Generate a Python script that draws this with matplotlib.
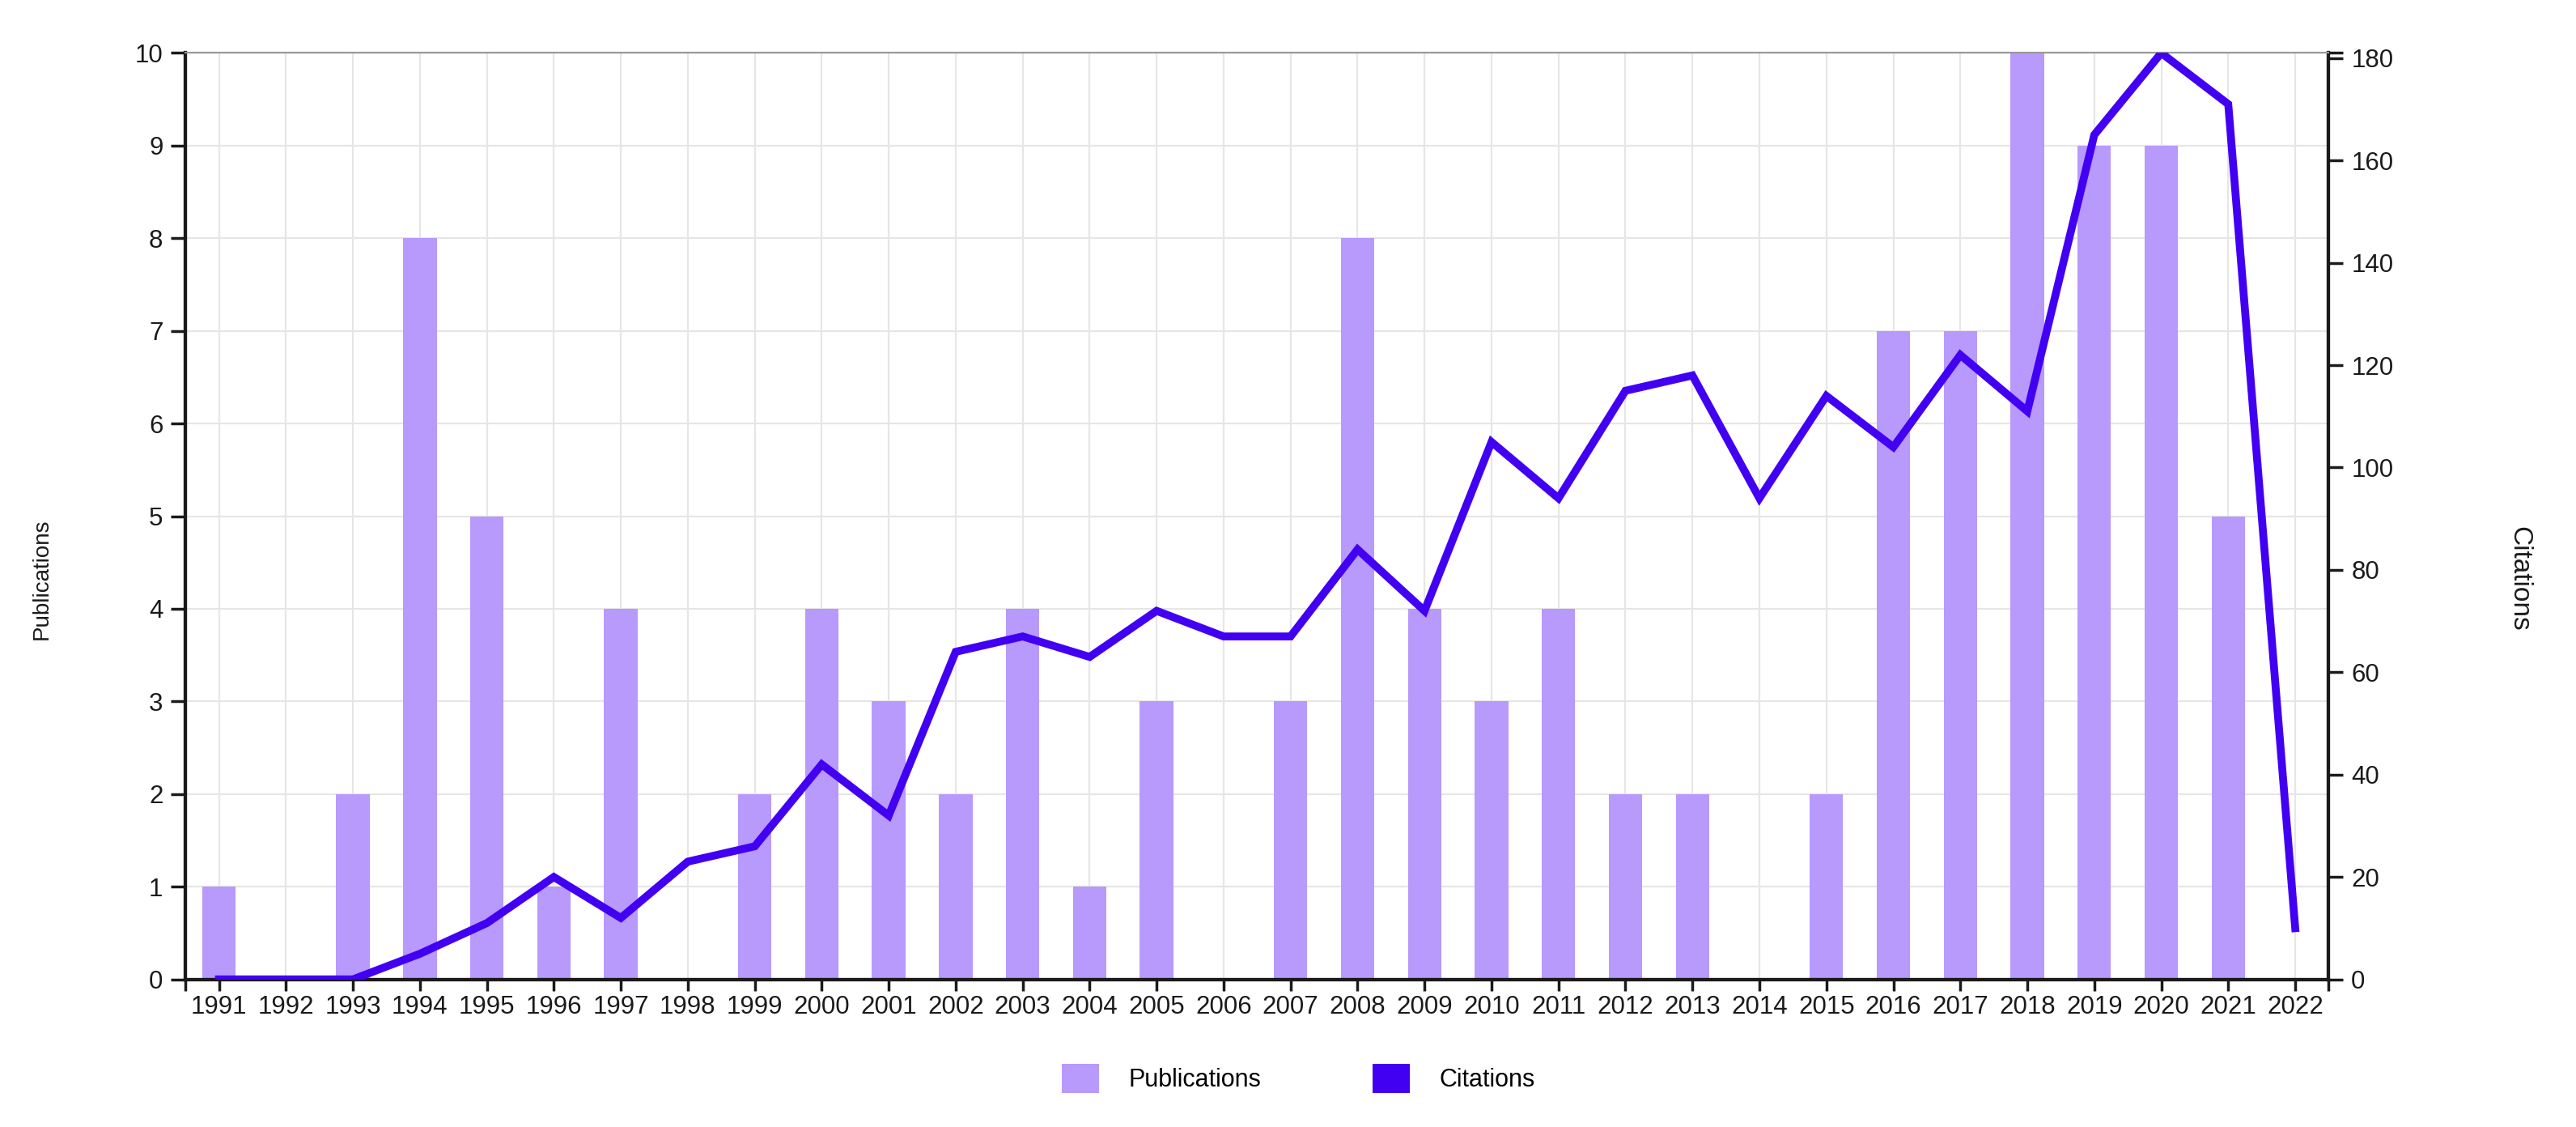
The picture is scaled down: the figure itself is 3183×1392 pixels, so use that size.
import matplotlib
matplotlib.use("Agg")
import matplotlib.pyplot as plt
from matplotlib.patches import Patch

plt.rcParams['font.family'] = ['Liberation Sans', 'DejaVu Sans']

years = list(range(1991, 2023))
publications = [1, 0, 2, 8, 5, 1, 4, 0, 2, 4, 3, 2, 4, 1, 3, 0, 3, 8, 4, 3, 4, 2, 2, 0, 2, 7, 7, 10, 9, 9, 5, 0]
citations = [0, 0, 0, 5, 11, 20, 12, 23, 26, 42, 32, 64, 67, 63, 72, 67, 67, 84, 72, 105, 94, 115, 118, 94, 114, 104, 122, 111, 165, 181, 171, 10]
left_ticks = [0, 1, 2, 3, 4, 5, 6, 7, 8, 9, 10]
right_ticks = [0, 20, 40, 60, 80, 100, 120, 140, 160, 180]

bar_color = '#b899fc'
line_color = '#4200f2'
text_color = '#1a1a1a'

fig = plt.figure(figsize=(31.83, 13.92), dpi=100)
ax = fig.add_axes([0.072, 0.131, 0.832, 0.822])
ax2 = ax.twinx()

ax.bar(years, publications, width=0.5, color=bar_color, zorder=2)
ax2.plot(years, citations, color=line_color, lw=7, solid_joinstyle='miter', zorder=3)

ax.set_xlim(1990.5, 2022.5)
ax.set_ylim(0, 10)
ax2.set_ylim(0, 181)

ax.set_xticks(years)
ax.set_xticklabels([str(y) for y in years])
ax.set_yticks(left_ticks)
ax2.set_yticks(right_ticks)
ax2.set_yticks([181], minor=True)
ax.set_xticks([1990.5, 2022.5], minor=True)

ax.grid(True, which='major', color='#e6e6e6', lw=1.6, zorder=0)
ax.set_axisbelow(True)

for a in (ax, ax2):
    a.tick_params(axis='both', which='both', labelsize=22.5, colors=text_color,
                  length=13, width=2.5, direction='out', pad=7)
    for s in ('left', 'right', 'bottom'):
        a.spines[s].set_color('#1a1a1a')
        a.spines[s].set_linewidth(3)
    a.spines['top'].set_color('#999999')
    a.spines['top'].set_linewidth(1.5)
ax.tick_params(axis='x', which='both', length=10, pad=4)
ax2.tick_params(axis='y', which='minor', length=13, width=2.5)

ax.set_ylabel('Publications', fontsize=20, color=text_color)
ax.yaxis.set_label_coords(-0.062, 0.432)
ax2.set_ylabel('Citations', fontsize=24, color=text_color, rotation=270, va='bottom')
ax2.yaxis.set_label_coords(1.083, 0.432)

handles = [Patch(facecolor=bar_color, edgecolor='none', label='Publications'),
           Patch(facecolor=line_color, edgecolor='none', label='Citations')]
fig.legend(handles=handles, loc='center', bbox_to_anchor=(0.504, 0.043), ncol=2,
           frameon=False, fontsize=22, handlelength=1.5, handleheight=1.4,
           columnspacing=4.5, handletextpad=1.2)

fig.savefig('out.png', dpi=100)
